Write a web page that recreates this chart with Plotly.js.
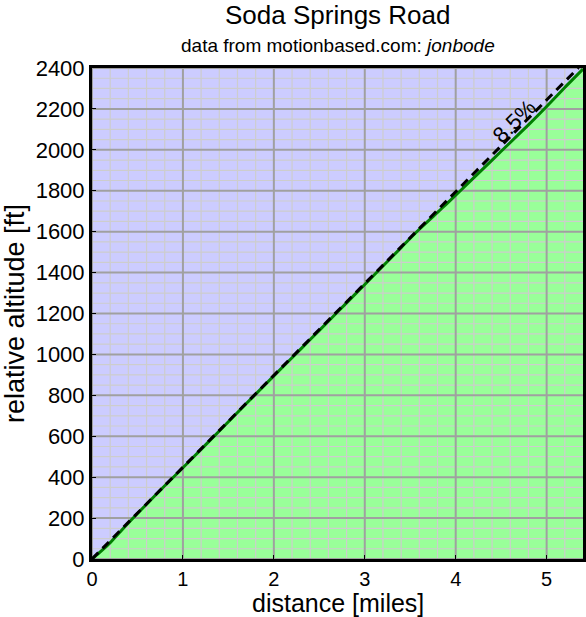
<!DOCTYPE html>
<html>
<head>
<meta charset="utf-8">
<script src="https://cdn.plot.ly/plotly-3.0.1.min.js"></script>
<style>html,body{margin:0;padding:0;background:#fff;}#chart{width:586px;height:617px;}</style>
</head>
<body>
<div id="chart"></div>
<script>
// distance [miles]
const distance = [0, 0.1, 0.2, 0.3, 0.4, 0.5, 0.6, 0.8, 1.0, 1.2, 1.4, 1.6, 1.8, 2.0, 2.2, 2.4, 2.6, 2.8, 3.0, 3.2, 3.4, 3.5, 3.6, 3.8, 3.9, 4.0, 4.2, 4.4, 4.6, 4.8, 5.0, 5.2, 5.4];
// relative altitude [ft]
const altitude = [0, 38, 80, 128, 176, 222, 268, 358, 446, 536, 626, 716, 806, 895, 984, 1073, 1162, 1252, 1342, 1432, 1522, 1568, 1612, 1694, 1736, 1778, 1864, 1950, 2036, 2122, 2212, 2305, 2395];
// average grade reference line
const gradePercent = 8.5;
const gradeX = [0, 5.35];
const ftPerMile = 5280;
const gradeY = gradeX.map(x => x * ftPerMile * gradePercent / 100);

const xMajor = [0, 1, 2, 3, 4, 5];
const yMajor = [0, 200, 400, 600, 800, 1000, 1200, 1400, 1600, 1800, 2000, 2200, 2400];
const xMinorStep = 0.2, yMinorStep = 50;
const xRange = [0, 5.4], yRange = [0, 2400];

const F = 'Liberation Sans, Arial, Helvetica, sans-serif';

function gridTrace(vertical, values, color, width) {
  const xs = [], ys = [];
  values.forEach(v => {
    if (vertical) { xs.push(v, v, null); ys.push(yRange[0], yRange[1], null); }
    else { xs.push(xRange[0], xRange[1], null); ys.push(v, v, null); }
  });
  return {x: xs, y: ys, mode: 'lines', line: {color: color, width: width}, hoverinfo: 'skip', showlegend: false, connectgaps: false};
}
const xMinor = [], yMinor = [];
for (let i = 1; i * xMinorStep < xRange[1]; i++) { const v = Math.round(i * xMinorStep * 10) / 10; if (!xMajor.includes(v)) xMinor.push(v); }
for (let v = yMinorStep; v < yRange[1]; v += yMinorStep) { if (!yMajor.includes(v)) yMinor.push(v); }

const traces = [
  {x: distance, y: altitude, mode: 'none', fill: 'tozeroy', fillcolor: 'rgb(153,255,153)', hoverinfo: 'skip', showlegend: false},
  gridTrace(true, xMinor, 'rgb(205,205,205)', 1.2),
  gridTrace(false, yMinor, 'rgb(205,205,205)', 1.2),
  gridTrace(true, xMajor, 'rgb(160,160,160)', 2),
  gridTrace(false, yMajor, 'rgb(160,160,160)', 2),
  {x: distance, y: altitude, mode: 'lines', line: {color: 'rgb(0,128,0)', width: 3, shape: 'spline', smoothing: 0.6}, showlegend: false},
  {x: gradeX, y: gradeY, mode: 'lines', line: {color: 'black', width: 3, dash: '9px,6px'}, showlegend: false}
];

const layout = {
  width: 586, height: 617,
  margin: {l: 92, r: 3, t: 68, b: 58},
  paper_bgcolor: 'white',
  plot_bgcolor: 'rgb(204,204,255)',
  font: {family: F, color: 'black'},
  xaxis: {range: xRange, showgrid: false, zeroline: false, tickvals: xMajor, ticks: 'inside', ticklen: 4, tickwidth: 1, tickcolor: 'black',
          showline: true, linecolor: 'black', linewidth: 3, mirror: true, tickfont: {size: 20, family: F}, layer: 'above traces'},
  yaxis: {range: yRange, showgrid: false, zeroline: false, tickvals: yMajor, ticks: 'inside', ticklen: 4, tickwidth: 1, tickcolor: 'black',
          showline: true, linecolor: 'black', linewidth: 3, mirror: true, tickfont: {size: 22, family: F}, layer: 'above traces',
          title: {text: 'relative altitude [ft]', font: {size: 27, family: F}, standoff: 4}},
  annotations: [
    {xref: 'paper', yref: 'paper', x: 0.5, y: 1, yanchor: 'middle', yshift: 53, showarrow: false,
     text: 'Soda Springs Road', font: {size: 26, family: F}},
    {xref: 'paper', yref: 'paper', x: 0.5, y: 1, yanchor: 'middle', yshift: 23, showarrow: false,
     text: 'data from motionbased.com: <i>jonbode</i>', font: {size: 19, family: F}},
    {xref: 'paper', yref: 'paper', x: 0.5, y: 0, yanchor: 'middle', yshift: -44, showarrow: false,
     text: 'distance [miles]', font: {size: 25, family: F}},
    {xref: 'x', yref: 'y', x: 4.64, y: 2140, showarrow: false, textangle: -45,
     text: gradePercent + '%', font: {size: 22, family: F}}
  ]
};

Plotly.newPlot('chart', traces, layout, {displayModeBar: false, staticPlot: true});
</script>
</body>
</html>
